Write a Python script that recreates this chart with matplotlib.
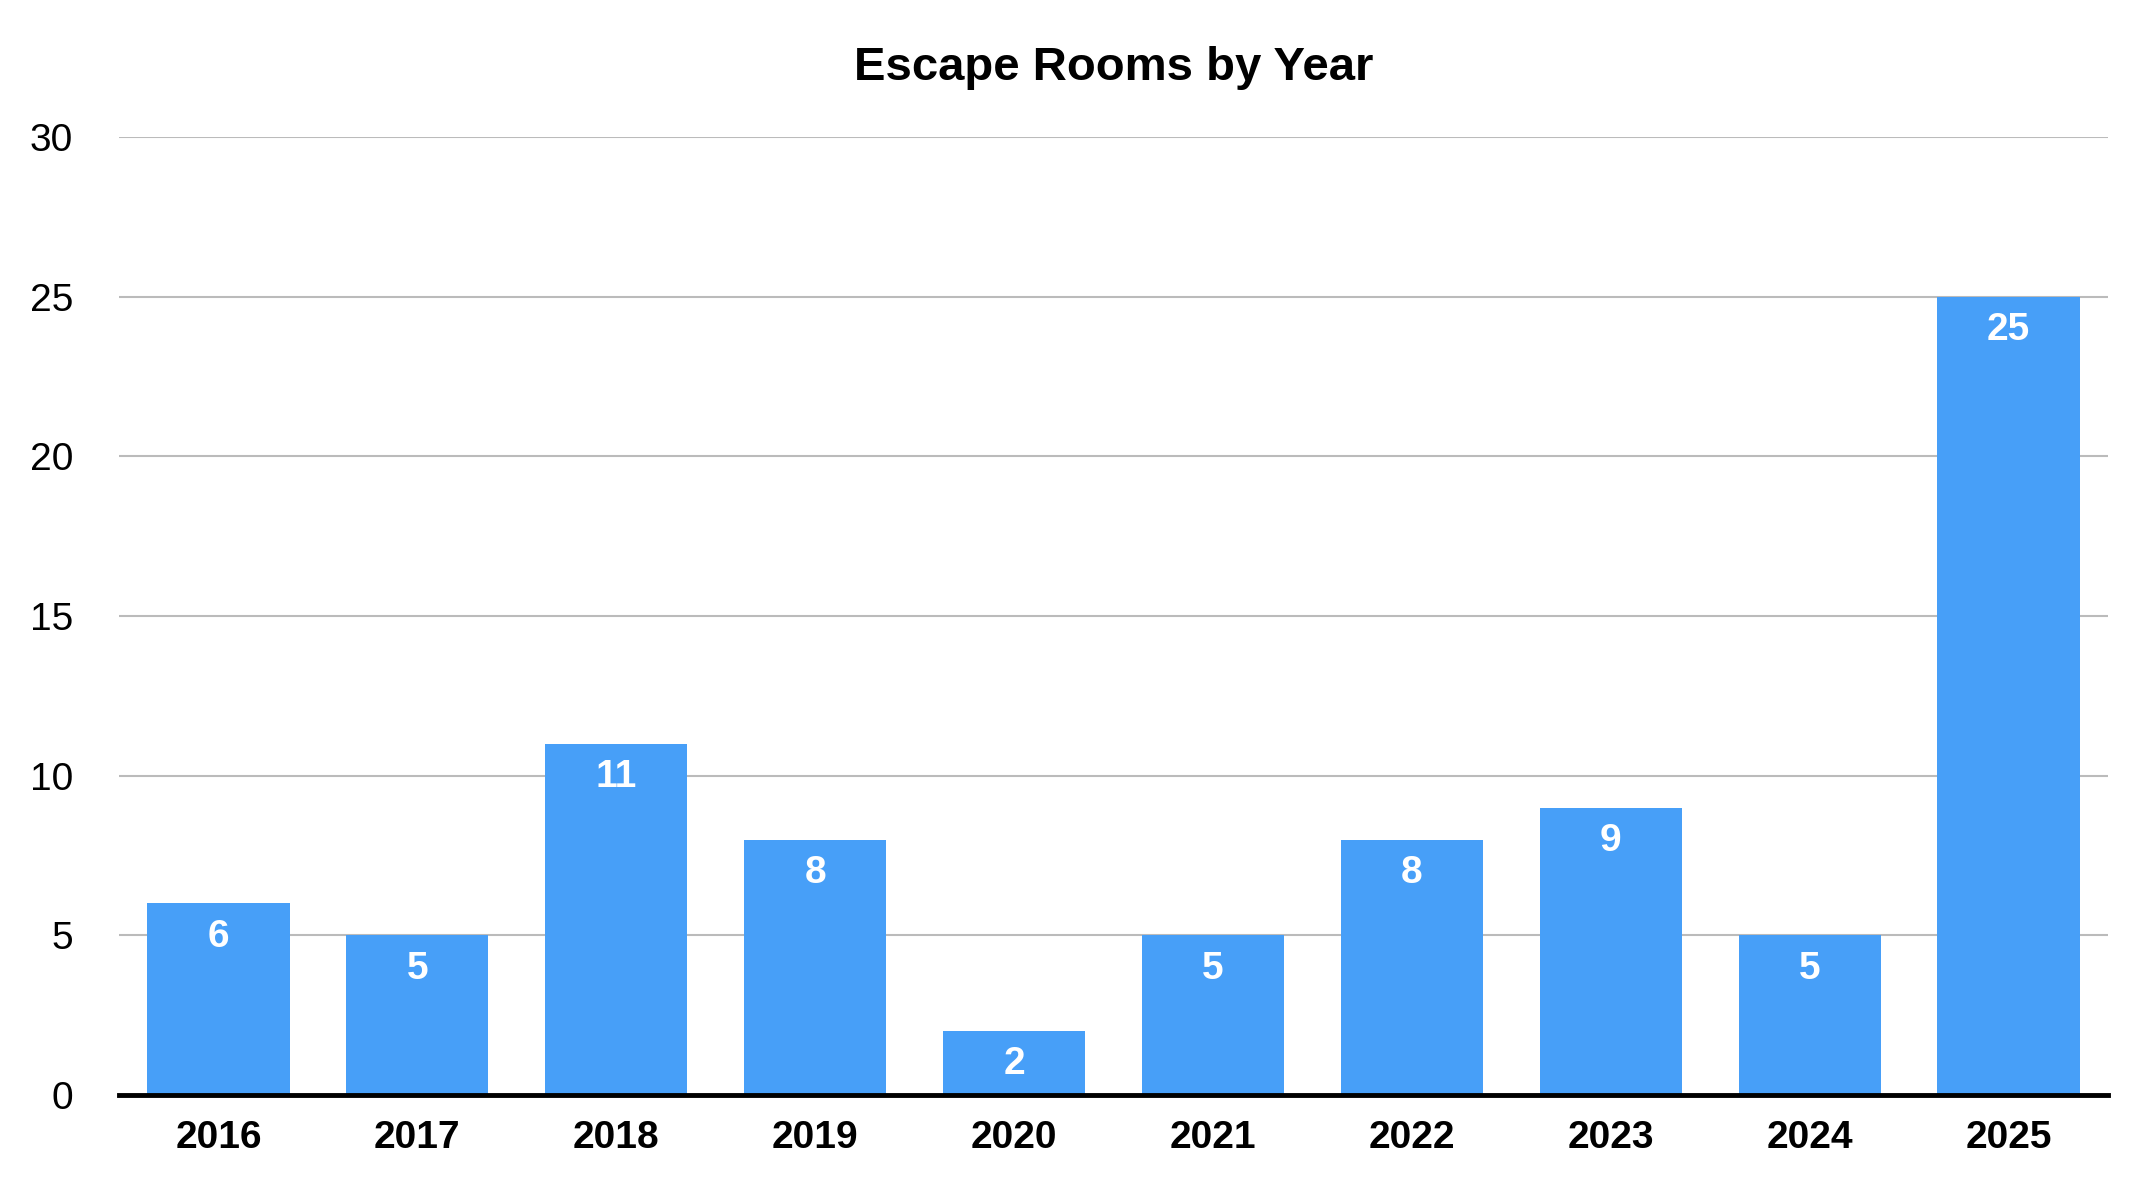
import matplotlib.pyplot as plt

years = ["2016", "2017", "2018", "2019", "2020", "2021", "2022", "2023", "2024", "2025"]
rooms = [6, 5, 11, 8, 2, 5, 8, 9, 5, 25]
yticks = [0, 5, 10, 15, 20, 25, 30]

plt.rcParams['font.family'] = ['Liberation Sans', 'DejaVu Sans']

fig = plt.figure(figsize=(21.48, 11.86), dpi=100)
ax = fig.add_axes([0.0554, 0.0767, 0.9260, 0.8078])

x = range(len(years))
bars = ax.bar(x, rooms, width=0.715, color='#479FF8', zorder=2)

# value labels sit inside the top of each bar
for xi, v in zip(x, rooms):
    ax.annotate(str(v), (xi, v), xytext=(0, -24), textcoords='offset points',
                ha='center', va='center', color='white', fontsize=28,
                fontweight='bold', zorder=3)

ax.set_xlim(-0.5, len(years) - 0.5)
ax.set_ylim(0, 30)
ax.set_yticks(yticks)
ax.set_xticks(list(x))
ax.set_xticklabels(years, fontsize=28, fontweight='bold')
ax.tick_params(axis='y', length=0, pad=33, labelsize=28)
ax.tick_params(axis='x', length=0, pad=18)

ax.yaxis.grid(True, color='#BBBBBB', linewidth=1.5, zorder=0)
ax.set_axisbelow(True)
for s in ['top', 'right', 'left']:
    ax.spines[s].set_visible(False)
ax.spines['bottom'].set_linewidth(3.5)
ax.spines['bottom'].set_zorder(4)

ax.set_title("Escape Rooms by Year", fontsize=34, fontweight='bold', pad=41)

fig.savefig("out.png", dpi=100)
